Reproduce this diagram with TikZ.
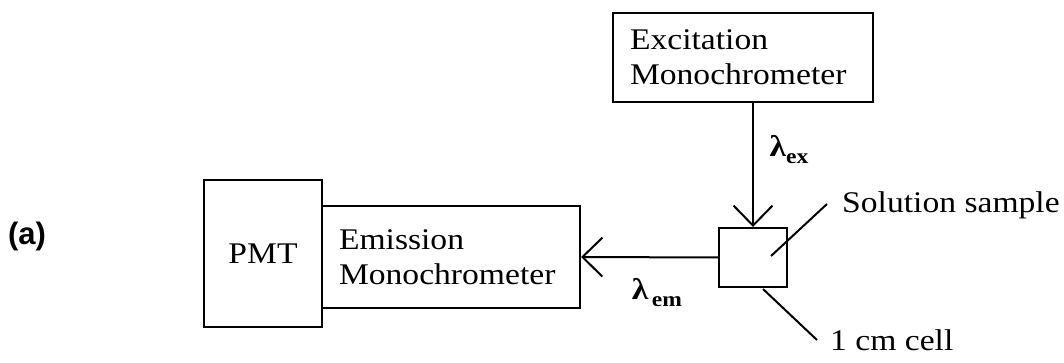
\documentclass[tikz,border=0pt]{standalone}
\usepackage{fontspec}
\setmainfont{Liberation Serif}[FakeStretch=1.12]
\newfontfamily\labelfont{Liberation Sans}
\usetikzlibrary{arrows.meta}
\tikzset{
  box/.style={draw, line width=2pt, rectangle, inner ysep=0pt},
  txt/.style={font=\fontsize{30}{35}\selectfont},
  lam/.style={font=\fontsize{30}{35}\selectfont\bfseries, inner sep=1pt},
  conn/.style={line width=2pt},
  arr/.style={line width=2pt, -{Straight Barb[length=20pt, width=39pt, line width=2pt]}},
}
\newcommand{\lamsub}[1]{λ\raisebox{-7pt}{\fontsize{21}{21}\selectfont #1}}
\begin{document}
\begin{tikzpicture}[x=1pt, y=-1pt]
\useasboundingbox (0,0) rectangle (1064,363);
\node[box, txt, minimum width=260pt, minimum height=89pt, text width=226pt, inner xsep=17pt, align=left] (exc) at (743,57.5) {Excitation\\Monochrometer};
\node[box, txt, minimum width=118pt, minimum height=147pt, inner xsep=0pt] (pmt) at (263,253.5) {PMT};
\node[box, txt, minimum width=258pt, minimum height=102pt, text width=224pt, inner xsep=17pt, align=left] (emis) at (451,257) {Emission\\Monochrometer};
\node[box, minimum width=68pt, minimum height=59pt, inner sep=0pt] (cell) at (753,257.5) {};
\draw[arr] (cell.north |- exc.south) -- (cell.north);
\draw[arr] (cell.west) -- (emis.east);
\node[lam] (lex) at (789,150) {\lamsub{ex}};
\node[lam] (lem) at (657,293) {\lamsub{\,em}};
\node[txt, anchor=base west, inner sep=0pt] (ss) at (842,213) {Solution sample};
\node[txt, anchor=base west, inner sep=0pt] (cc) at (830,350) {1 cm cell};
\coordinate (ss1) at (827,204);
\coordinate (ss2) at (771,256);
\coordinate (cc1) at (763,289);
\coordinate (cc2) at (817,340);
\draw[conn] (ss1) -- (ss2);
\draw[conn] (cc1) -- (cc2);
\node[font=\labelfont\bfseries\fontsize{31}{34}\selectfont, inner sep=0pt] (a) at (27,236) {(a)};
\end{tikzpicture}
\end{document}
